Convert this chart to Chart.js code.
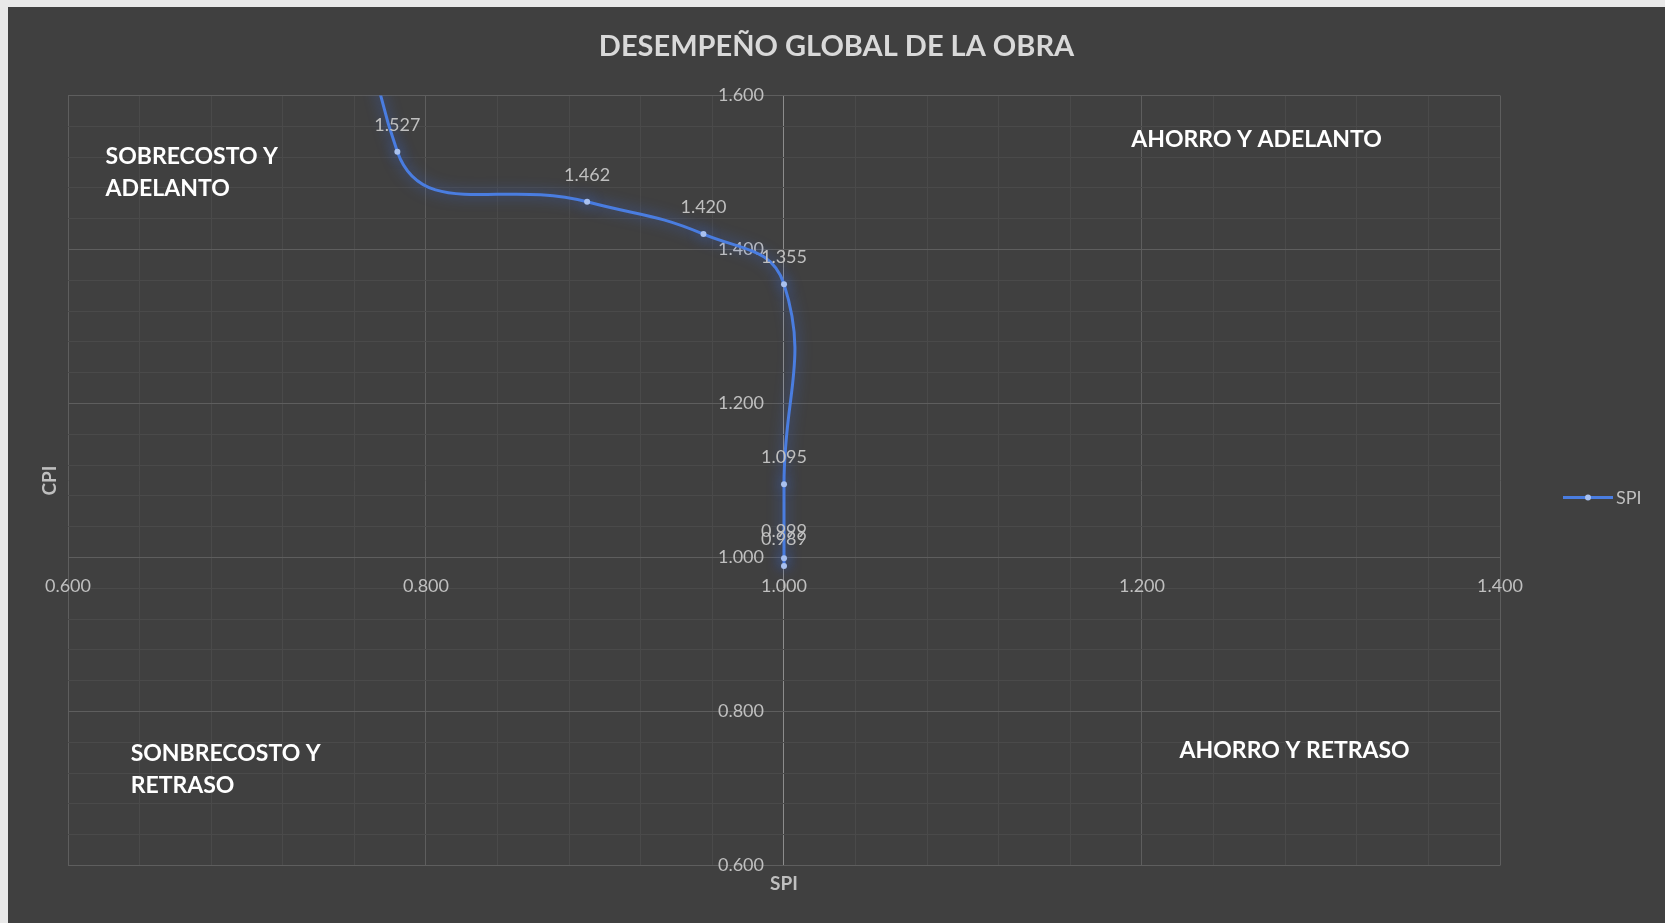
<!DOCTYPE html>
<html>
<head>
<meta charset="utf-8">
<script src="https://cdn.jsdelivr.net/npm/chart.js@4.4.1/dist/chart.umd.min.js"></script>
<style>
    html, body { margin: 0; padding: 0; background: #e9e9e9; }
    #wrap { position: absolute; left: 8px; top: 7px; width: 1657px; height: 916px; background: #404040; }
</style>
</head>
<body>
<div id="wrap"><canvas id="chartCpi"></canvas></div>
<script>
// Desempeño global de la obra

// SPI (x) / CPI (y) - first point lies above the plot
const spiValues = [0.778, 0.784, 0.890, 0.955, 1.000, 1.000, 1.000, 1.000];
const cpiValues = [2.200, 1.527, 1.462, 1.420, 1.355, 1.095, 0.999, 0.989];

const seriesName = "SPI";
const chartTitle = "DESEMPEÑO GLOBAL DE LA OBRA";
const xTitle = "SPI";
const yTitle = "CPI";

const quadrantTexts = [
    ["SOBRECOSTO Y", "ADELANTO"],
    ["AHORRO Y ADELANTO"],
    ["SONBRECOSTO Y", "RETRASO"],
    ["AHORRO Y RETRASO"],
];

const FONT = "Lato, 'Open Sans', sans-serif";
const TICK_COLOR = "#bfbfbf";
const LINE_COLOR = "#4a7de0";

const isMajor = (v) => Math.abs(v / 0.2 - Math.round(v / 0.2)) < 1e-6;

// quadrant text anchors in data units (left edge, first line centre)
const quadrantPos = [
    { x: 0.621, y: 1.521 },
    { x: 1.194, y: 1.543 },
    { x: 0.635, y: 0.745 },
    { x: 1.221, y: 0.749 },
];

const extrasPlugin = {
    id: "extras",
    beforeDatasetDraw(chart) {
        const ctx = chart.ctx;
        ctx.save();
        ctx.shadowColor = "rgba(60, 110, 235, 0.75)";
        ctx.shadowBlur = 14;
    },
    afterDatasetDraw(chart) {
        chart.ctx.restore();
    },
    afterDatasetsDraw(chart) {
        const ctx = chart.ctx;
        const area = chart.chartArea;
        const xs = chart.scales.x;
        const ys = chart.scales.y;

        ctx.save();
        ctx.textBaseline = "middle";

        // title
        ctx.fillStyle = "#d9d9d9";
        ctx.font = "bold 29px " + FONT;
        ctx.textAlign = "center";
        ctx.fillText(chartTitle, chart.width / 2, 40);

        // data labels
        ctx.fillStyle = TICK_COLOR;
        ctx.font = "18px " + FONT;
        chart.getDatasetMeta(0).data.forEach((pt, i) => {
            if (pt.y < area.top || pt.y > area.bottom) return;
            ctx.fillText(cpiValues[i].toFixed(3), pt.x, pt.y - 27);
        });

        // quadrant texts
        ctx.fillStyle = "#ffffff";
        ctx.font = "bold 23px " + FONT;
        ctx.textAlign = "left";
        quadrantTexts.forEach((lines, i) => {
            const px = xs.getPixelForValue(quadrantPos[i].x);
            const py = ys.getPixelForValue(quadrantPos[i].y);
            lines.forEach((t, j) => ctx.fillText(t, px, py + j * 32));
        });

        // axis titles
        ctx.fillStyle = TICK_COLOR;
        ctx.font = "bold 19px " + FONT;
        ctx.textAlign = "center";
        ctx.fillText(xTitle, xs.getPixelForValue(1.0), area.bottom + 18);
        ctx.save();
        ctx.translate(area.left - 18, (area.top + area.bottom) / 2);
        ctx.rotate(-Math.PI / 2);
        ctx.fillText(yTitle, 0, 0);
        ctx.restore();

        // legend
        const ly = (area.top + area.bottom) / 2 + 17;
        const lx = area.right + 63;
        ctx.strokeStyle = LINE_COLOR;
        ctx.lineWidth = 3;
        ctx.beginPath();
        ctx.moveTo(lx, ly);
        ctx.lineTo(lx + 50, ly);
        ctx.stroke();
        ctx.fillStyle = "#a9c1ef";
        ctx.beginPath();
        ctx.arc(lx + 25, ly, 3, 0, Math.PI * 2);
        ctx.fill();
        ctx.fillStyle = TICK_COLOR;
        ctx.font = "18px " + FONT;
        ctx.textAlign = "left";
        ctx.fillText(seriesName, lx + 53, ly + 1);
        ctx.restore();
    },
};

setupChart = () => {
    const points = spiValues.map((x, i) => ({ x: x, y: cpiValues[i] }));

    const tickFont = { family: FONT, size: 18 };

    const config = {
        type: "scatter",
        data: {
            datasets: [
                {
                    label: seriesName,
                    data: points,
                    showLine: true,
                    borderColor: LINE_COLOR,
                    borderWidth: 3,
                    tension: 0.45,
                    pointRadius: 3,
                    pointBackgroundColor: "#a9c1ef",
                    pointBorderWidth: 0,
                },
            ],
        },
        options: {
            responsive: true,
            maintainAspectRatio: false,
            animation: false,
            layout: { padding: { left: 60, right: 165, top: 88.5, bottom: 57.5 } },
            plugins: {
                legend: { display: false },
                tooltip: { enabled: false },
            },
            scales: {
                x: {
                    type: "linear",
                    min: 0.6,
                    max: 1.4,
                    position: { y: 1.0 },
                    border: { display: false },
                    grid: {
                        drawTicks: false,
                        color: (c) => {
                            const v = c.tick.value;
                            if (Math.abs(v - 1) < 1e-6) return "#8c8c8c";
                            return isMajor(v) ? "#5e5e5e" : "#4a4a4a";
                        },
                    },
                    ticks: {
                        stepSize: 0.04,
                        autoSkip: false,
                        maxRotation: 0,
                        padding: 18,
                        color: TICK_COLOR,
                        font: tickFont,
                        callback: (v) => (isMajor(v) ? v.toFixed(3) : ""),
                    },
                },
                y: {
                    type: "linear",
                    min: 0.6,
                    max: 1.6,
                    // labels sit a little left of the SPI = 1 line
                    position: { x: 0.9888 },
                    border: { display: false },
                    grid: {
                        drawTicks: false,
                        color: (c) => (isMajor(c.tick.value) ? "#5e5e5e" : "#4a4a4a"),
                    },
                    ticks: {
                        stepSize: 0.04,
                        autoSkip: false,
                        color: TICK_COLOR,
                        font: tickFont,
                        callback: (v) => (isMajor(v) ? v.toFixed(3) : ""),
                    },
                },
            },
        },
        plugins: [extrasPlugin],
    };

    let ctx = document.getElementById("chartCpi");
    let cpiChart = new Chart(ctx, config);
};

setupChart();
</script>
</body>
</html>
